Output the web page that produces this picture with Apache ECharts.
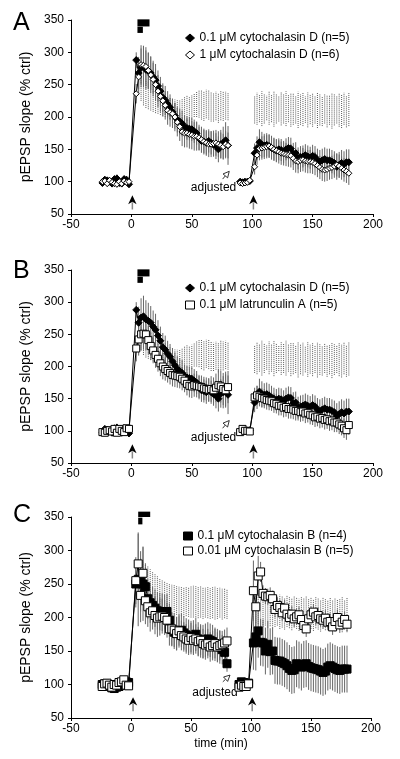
<!DOCTYPE html>
<html><head><meta charset="utf-8">
<script src="https://cdn.jsdelivr.net/npm/echarts/dist/echarts.min.js"></script>
<style>html,body{margin:0;padding:0;background:#fff}#c{width:400px;height:759px}</style>
</head><body><div id="c"></div>
<script>
// ---------- time points (min) ----------
const T1 = [-24,-22,-20,-18,-16,-14,-12,-10,-8,-6,-4,-2,
  4,6,8,10,12,14,16,18,20,22,24,26,28,30,32,34,36,38,40,42,44,46,48,50,52,54,56,58,60,62,64,66,68,70,72,74,76,78,80];
const T2 = [90,92,94,96,98,
  102,104,106,108,110,112,114,116,118,120,122,124,126,128,130,132,134,136,138,140,142,144,146,148,150,152,154,156,158,160,162,164,166,168,170,172,174,176,178,180];

// ---------- 0.1 uM cytochalasin D (n=5)  (panels A and B) ----------
const CD01_V1 = [98,103,102,100,97,104,105,98,97,104,103,96,
  288,268,276,278,273,271,268,262,257,248,240,230,226,220,215,208,202,196,193,190,185,183,182,181,178,175,167,163,162,160,163,160,157,155,150,158,160,164,156];
const CD01_V2 = [100,99,100,100,101,
  144,152,161,157,156,157,155,152,150,148,150,149,146,150,152,151,143,144,136,138,139,141,139,137,140,138,133,131,133,135,133,133,131,129,123,126,129,127,130,130];
const CD01_E1 = [5,5,4,5,5,5,6,5,5,5,5,5,
  12,25,30,32,30,28,26,25,25,24,22,22,22,20,20,20,20,20,20,20,18,18,18,18,18,18,18,18,18,18,18,18,18,20,20,22,25,28,30];
const CD01_E2 = [3,3,3,3,3,
  15,18,20,20,18,18,18,18,17,17,17,17,17,17,17,17,17,17,17,17,17,17,17,17,17,17,18,18,18,18,18,18,18,18,20,20,20,20,20,20];

// ---------- 1 uM cytochalasin D (n=6)  (panel A) ----------
const CD1_V1 = [100,101,97,102,99,97,96,100,97,101,99,100,
  236,262,281,280,278,272,265,258,250,240,232,225,218,210,207,205,200,192,185,177,175,175,173,172,170,170,168,165,162,160,158,158,159,160,158,156,154,158,156];
const CD1_V2 = [98,97,98,99,102,
  123,141,151,152,153,154,155,153,150,148,146,144,143,142,141,140,136,132,131,133,134,132,131,131,130,128,125,122,119,118,119,121,122,124,126,124,121,118,116,113];
const CD1_E1 = [5,4,5,5,4,5,5,4,5,5,4,5,
  15,25,30,30,30,28,28,26,25,25,24,24,22,22,22,22,22,22,22,22,22,22,22,22,22,22,20,20,20,20,20,20,20,20,20,20,20,20,20];
const CD1_E2 = [3,3,3,3,3,
  12,15,18,18,18,18,18,18,18,18,18,18,18,18,18,18,18,18,18,18,18,18,18,18,18,18,18,18,18,18,18,18,18,18,18,18,18,18,18,18];

// ---------- 0.1 uM latrunculin A (n=5)  (panel B) ----------
const LA_V1 = [98,97,100,101,99,103,97,103,100,98,104,103,
  228,242,250,251,250,241,232,225,218,212,205,200,196,193,190,187,186,185,184,181,178,173,170,169,171,170,169,168,166,165,164,165,163,167,171,169,165,163,168];
const LA_V2 = [98,103,100,100,99,
  152,155,153,151,150,148,147,146,143,142,139,139,136,137,134,134,133,131,131,129,130,127,128,125,124,121,122,119,120,117,118,115,116,113,113,110,108,104,101,109];
const LA_E1 = [5,4,5,5,4,5,5,4,5,5,4,5,
  20,25,25,25,25,22,22,20,20,20,20,20,18,18,18,18,18,18,18,18,18,18,18,18,18,18,18,18,18,18,18,20,20,22,25,25,25,25,25];
const LA_E2 = [3,3,3,3,3,
  15,15,15,15,15,15,15,15,15,15,15,15,15,15,15,15,15,15,15,15,15,15,15,15,15,15,15,15,15,15,15,15,15,15,15,15,15,15,15,15];

// ---------- 0.1 uM cytochalasin B (n=4)  (panel C) ----------
const CB01_V1 = [100,101,98,97,95,94,96,97,99,101,104,103,
  250,257,254,250,246,228,222,218,214,210,209,208,208,209,196,182,178,176,180,181,177,174,172,170,171,175,168,165,164,166,168,166,164,160,158,156,152,148,131];
const CB01_V2 = [100,104,103,101,102,
  162,171,180,163,162,150,160,149,150,136,135,135,133,131,128,124,121,122,131,129,126,130,131,127,125,124,123,122,120,118,120,126,128,126,124,122,121,123,123,123];
const CB01_E1 = [5,5,5,5,5,5,5,5,5,5,5,5,
  35,70,45,55,35,30,30,28,28,28,28,28,26,26,25,25,25,25,25,25,25,25,25,25,25,25,25,25,25,25,25,25,25,25,25,25,22,20,12];
const CB01_E2 = [4,4,4,4,4,
  40,50,40,35,35,35,35,35,35,35,35,35,35,35,35,35,35,35,35,35,35,35,35,35,35,35,35,35,35,35,35,35,35,35,35,35,35,35,35,35];

// ---------- 0.01 uM cytochalasin B (n=5)  (panel C) ----------
const CB001_V1 = [97,101,102,99,96,100,99,103,104,107,99,98,
  255,280,233,266,225,216,207,210,203,199,201,202,200,196,183,183,181,176,180,173,171,168,166,170,166,168,164,166,161,159,161,156,158,161,156,158,160,162,165];
const CB001_V2 = [96,99,97,97,101,
  240,216,262,268,236,232,231,233,228,212,218,215,207,214,205,200,205,198,201,204,197,188,183,198,204,208,201,203,198,196,199,193,194,186,194,200,189,193,197,190];
const CB001_E1 = [4,4,4,4,4,4,4,4,4,4,4,4,
  35,45,40,40,35,30,28,28,28,28,28,26,26,26,25,25,25,25,22,22,22,22,22,22,22,22,22,22,22,22,22,22,22,22,22,22,20,20,20];
const CB001_E2 = [4,4,4,4,4,
  45,30,30,15,12,12,12,12,12,12,12,12,12,12,12,12,12,12,12,12,12,12,12,12,12,12,12,12,12,12,12,12,12,12,12,12,12,12,12,12];

// ---------- control ranges (dotted), post-tetanus points only ----------
const BAND_AB_LO1 = ['-','-',225,218,214,212,210,208,206,205,203,201,200,198,197,196,195,194,193,195,195,194,195,196,200,200,199,196,194,198,196,193,193,195,191,195,194,196,195];
const BAND_AB_HI1 = ['-','-',262,262,258,255,252,249,246,243,241,238,236,233,231,229,227,226,226,229,231,233,232,234,236,239,241,241,240,242,241,239,237,239,237,240,239,240,238];
const BAND_AB_LO2 = [190,188,192,186,190,195,188,192,185,190,193,187,190,186,192,185,188,190,183,188,186,191,184,189,185,190,183,187,186,190,184,188,182,187,190,185,183,188,184,186];
const BAND_AB_HI2 = [232,238,235,240,236,233,239,235,240,236,233,238,235,240,234,237,236,233,239,235,237,232,238,234,236,233,237,235,231,236,234,233,237,235,232,236,234,238,233,238];
const BAND_C_LO1 = ['-','-',245,240,235,230,226,222,219,216,214,212,210,208,207,206,205,204,203,202,201,202,201,200,200,201,199,200,198,200,199,198,199,197,198,200,197,199,198];
const BAND_C_HI1 = ['-','-',290,285,280,276,272,268,265,262,258,256,254,252,250,249,248,247,246,246,245,245,246,247,248,247,246,247,246,245,246,244,245,246,244,245,243,244,243];
const BAND_C_LO2 = [195,192,190,188,186,188,185,187,184,186,188,183,185,182,186,184,181,185,183,180,184,182,185,181,183,180,184,182,179,183,181,184,180,182,179,183,181,178,182,180];
const BAND_C_HI2 = [240,238,236,238,235,234,236,232,235,233,231,234,232,230,233,231,229,232,230,228,231,229,232,228,230,227,231,229,227,230,228,226,229,227,230,226,228,231,227,229];

// ---------- annotations (data coordinates) ----------
const DRUG_AB = [[5,15,340,351],[5,9.5,330,339.5]];
const DRUG_C  = [[6,16,350,358],[6,9.5,339,349]];
const TETANUS_AB = [[0.8,57,65,79],[101,57,65,79]];
const TETANUS_C  = [[1.7,60,68.5,81],[101,60,68.5,81]];
const ADJ_AB = [[68,90,75.5,104,81,116]];
const ADJ_C  = [[70,88,76.5,104,82.5,114]];

const N_CD01 = '0.1 μM cytochalasin D (n=5)';
const N_CD1  = '1 μM cytochalasin D (n=6)';
const N_LA   = '0.1 μM latrunculin A (n=5)';
const N_CB01 = '0.1 μM cytochalasin B (n=4)';
const N_CB001= '0.01 μM cytochalasin B (n=5)';

const FONT = '"Liberation Sans", Arial, Helvetica, sans-serif';

function lineData(V1, V2) {
  return T1.map((t,i)=>[t,V1[i]]).concat([[85,'-']], T2.map((t,i)=>[t,V2[i]]));
}
function errData(V1,E1,V2,E2) {
  return T1.map((t,i)=>[t,V1[i],E1[i]]).concat(T2.map((t,i)=>[t,V2[i],E2[i]]));
}
function bandData(L1,H1,L2,H2) {
  const a = T1.slice(12), b = T2.slice(5);
  return a.map((t,i)=>[t,L1[i],H1[i]]).concat(b.map((t,i)=>[t,L2[i],H2[i]]));
}

function renderErr(params, api) {
  const x = api.value(0), y = api.value(1), e = api.value(2);
  if (isNaN(y) || isNaN(e)) return null;
  const a = api.coord([x, y - e]), b = api.coord([x, y + e]);
  return {type:'line', shape:{x1:a[0],y1:a[1],x2:b[0],y2:b[1]}, style:{stroke:'#666', lineWidth:1}};
}
function renderBand(params, api) {
  const x = api.value(0), lo = api.value(1), hi = api.value(2);
  if (isNaN(lo) || isNaN(hi)) return null;
  const a = api.coord([x, lo]), b = api.coord([x, hi]);
  return {type:'line', shape:{x1:a[0],y1:a[1],x2:b[0],y2:b[1]}, style:{stroke:'#5a5a5a', lineWidth:1, lineDash:[1,1]}};
}
function renderDrug(params, api) {
  const p0 = api.coord([api.value(0), api.value(3)]);
  const p1 = api.coord([api.value(1), api.value(2)]);
  return {type:'rect', shape:{x:p0[0], y:p0[1], width:p1[0]-p0[0], height:p1[1]-p0[1]}, style:{fill:'#000'}};
}
function renderArrow(params, api) {
  const t = api.value(0);
  const st = api.coord([t, api.value(1)]), base = api.coord([t, api.value(2)]), tip = api.coord([t, api.value(3)]);
  const x = tip[0];
  return {type:'group', children:[
    {type:'line', shape:{x1:x,y1:base[1]-2,x2:x,y2:st[1]}, style:{stroke:'#888', lineWidth:1.5}},
    {type:'polygon', shape:{points:[[x,tip[1]],[x+4.2,base[1]],[x,base[1]-2.5],[x-4.2,base[1]]]}, style:{fill:'#000'}}
  ]};
}
function renderAdj(params, api) {
  const pt = api.coord([api.value(0), api.value(1)]);
  const p0 = api.coord([api.value(2), api.value(3)]);
  const p1 = api.coord([api.value(4), api.value(5)]);
  let dx = p1[0]-p0[0], dy = p1[1]-p0[1];
  const L = Math.sqrt(dx*dx+dy*dy); dx/=L; dy/=L;
  const nx = -dy, ny = dx, hl = 6, hw = 3;
  const bx = p1[0]-dx*hl, by = p1[1]-dy*hl;
  return {type:'group', children:[
    {type:'text', x:pt[0], y:pt[1], style:{text:'adjusted', font:'12px '+FONT, fill:'#000', align:'center', verticalAlign:'middle'}},
    {type:'line', shape:{x1:p0[0],y1:p0[1],x2:bx,y2:by}, style:{stroke:'#000', lineWidth:0.8}},
    {type:'polygon', shape:{points:[[p1[0],p1[1]],[bx+nx*hw,by+ny*hw],[bx-nx*hw,by-ny*hw]]}, style:{fill:'#fff', stroke:'#000', lineWidth:0.8}}
  ]};
}

const grids = [
  {left:71, top:20, width:302, height:194},
  {left:71, top:270, width:302, height:193},
  {left:71, top:517, width:300, height:201}
];
function xAx(i, name) {
  return {type:'value', gridIndex:i, min:-50, max:200, interval:50,
    name: name || '', nameLocation:'middle', nameGap:20,
    nameTextStyle:{color:'#000', fontSize:12, fontFamily:FONT},
    axisLine:{onZero:false, lineStyle:{color:'#000', width:1}}, axisTick:{show:true, length:3, lineStyle:{color:'#000'}},
    axisLabel:{color:'#000', fontSize:12, fontFamily:FONT, margin:5}, splitLine:{show:false}};
}
function yAx(i) {
  return {type:'value', gridIndex:i, min:50, max:350, interval:50,
    name:'pEPSP slope (% ctrl)', nameLocation:'middle', nameGap:31,
    nameTextStyle:{color:'#000', fontSize:14, fontFamily:FONT},
    axisLine:{show:true, onZero:false, lineStyle:{color:'#000', width:1}}, axisTick:{show:true, length:3, lineStyle:{color:'#000'}},
    axisLabel:{color:'#000', fontSize:12, fontFamily:FONT, margin:7}, splitLine:{show:false}};
}
function custom(gi, data, render, z, clip) {
  return {type:'custom', xAxisIndex:gi, yAxisIndex:gi, data:data, renderItem:render, z:z, silent:true, clip: clip !== false, encode:{x:0, y:1}};
}
function line(gi, name, data, symbol, size, filled) {
  return {type:'line', name:name, xAxisIndex:gi, yAxisIndex:gi, data:data, symbol:symbol, symbolSize:size,
    showSymbol:true, connectNulls:false, z:10,
    lineStyle:{color:'#000', width:1},
    itemStyle:{color: filled ? '#000' : '#fff', borderColor:'#000', borderWidth:1}};
}

const series = [
  // Panel A
  custom(0, bandData(BAND_AB_LO1,BAND_AB_HI1,BAND_AB_LO2,BAND_AB_HI2), renderBand, 1),
  custom(0, errData(CD01_V1,CD01_E1,CD01_V2,CD01_E2), renderErr, 2),
  custom(0, errData(CD1_V1,CD1_E1,CD1_V2,CD1_E2), renderErr, 2),
  line(0, N_CD01, lineData(CD01_V1,CD01_V2), 'diamond', 7, true),
  line(0, N_CD1, lineData(CD1_V1,CD1_V2), 'diamond', 6, false),
  custom(0, DRUG_AB, renderDrug, 5, false),
  custom(0, TETANUS_AB, renderArrow, 5, false),
  custom(0, ADJ_AB, renderAdj, 5, false),
  // Panel B
  custom(1, bandData(BAND_AB_LO1,BAND_AB_HI1,BAND_AB_LO2,BAND_AB_HI2), renderBand, 1),
  custom(1, errData(CD01_V1,CD01_E1,CD01_V2,CD01_E2), renderErr, 2),
  custom(1, errData(LA_V1,LA_E1,LA_V2,LA_E2), renderErr, 2),
  line(1, N_CD01, lineData(CD01_V1,CD01_V2), 'diamond', 7, true),
  line(1, N_LA, lineData(LA_V1,LA_V2), 'rect', 7, false),
  custom(1, DRUG_AB, renderDrug, 5, false),
  custom(1, TETANUS_AB, renderArrow, 5, false),
  custom(1, ADJ_AB, renderAdj, 5, false),
  // Panel C
  custom(2, bandData(BAND_C_LO1,BAND_C_HI1,BAND_C_LO2,BAND_C_HI2), renderBand, 1),
  custom(2, errData(CB01_V1,CB01_E1,CB01_V2,CB01_E2), renderErr, 2),
  custom(2, errData(CB001_V1,CB001_E1,CB001_V2,CB001_E2), renderErr, 2),
  line(2, N_CB01, lineData(CB01_V1,CB01_V2), 'rect', 8, true),
  line(2, N_CB001, lineData(CB001_V1,CB001_V2), 'rect', 8, false),
  custom(2, DRUG_C, renderDrug, 5, false),
  custom(2, TETANUS_C, renderArrow, 5, false),
  custom(2, ADJ_C, renderAdj, 5, false)
];

function legend(top, left, gap, items) {
  return {show:true, orient:'vertical', top:top, left:left, itemWidth:9, itemHeight:8, itemGap:gap,
    selectedMode:false, textStyle:{color:'#000', fontSize:12, fontFamily:FONT},
    data: items};
}
const openStyle = {color:'#fff', borderColor:'#000', borderWidth:1};
const fillStyle = {color:'#000', borderColor:'#000', borderWidth:1};

const chart = echarts.init(document.getElementById('c'), null, {renderer:'canvas'});
chart.setOption({
  animation:false,
  backgroundColor:'#fff',
  grid: grids,
  xAxis: [xAx(0), xAx(1), xAx(2, 'time (min)')],
  yAxis: [yAx(0), yAx(1), yAx(2)],
  legend: [
    legend(27, 180, 5, [{name:N_CD01, icon:'diamond', itemStyle:fillStyle}, {name:N_CD1, icon:'diamond', itemStyle:openStyle}]),
    legend(277, 180, 5, [{name:N_CD01, icon:'diamond', itemStyle:fillStyle}, {name:N_LA, icon:'rect', itemStyle:openStyle}]),
    legend(525, 178, 3, [{name:N_CB01, icon:'rect', itemStyle:fillStyle}, {name:N_CB001, icon:'rect', itemStyle:openStyle}])
  ],
  graphic: [
    {type:'text', left:13, top:11, style:{text:'A', font:'25px '+FONT, fill:'#000'}},
    {type:'text', left:13, top:259, style:{text:'B', font:'25px '+FONT, fill:'#000'}},
    {type:'text', left:13, top:503, style:{text:'C', font:'25px '+FONT, fill:'#000'}}
  ],
  series: series
});
</script></body></html>
